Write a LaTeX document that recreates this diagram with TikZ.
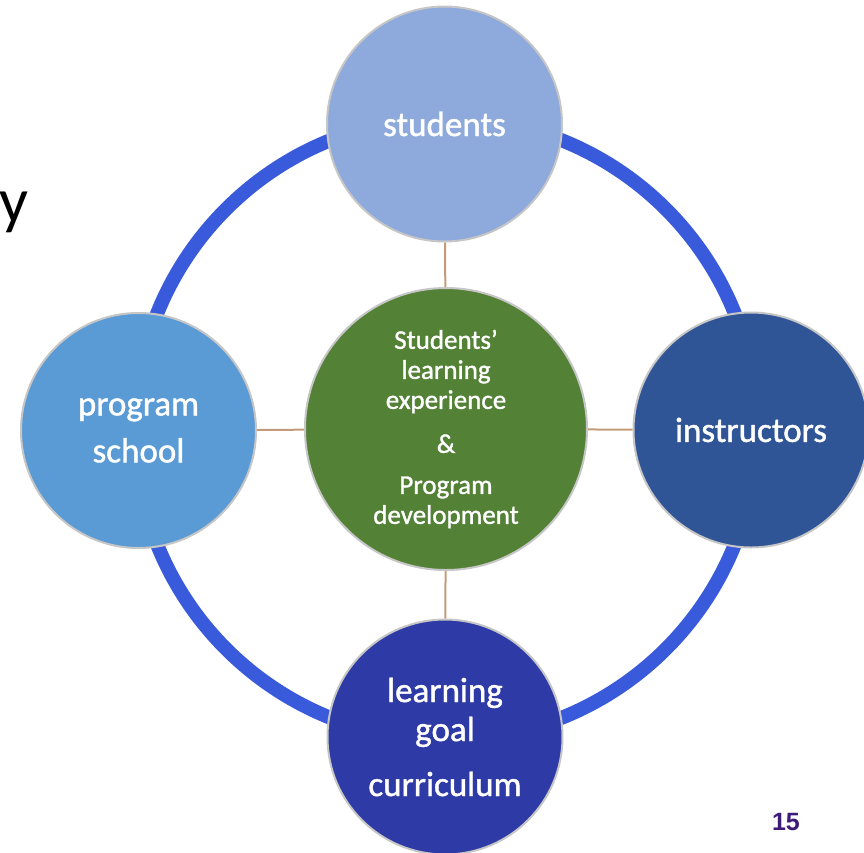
\documentclass[tikz,border=0pt]{standalone}
\usepackage{fontspec}
\setmainfont{Carlito}
\newfontfamily\circtext{Carlito}[FakeBold=1.2]
\newfontfamily\slidenum{Liberation Sans}
\usepackage{xcolor}
\usepackage{tikz}
\usetikzlibrary{backgrounds}

\definecolor{ringblue}{HTML}{3A5ADC}
\definecolor{spoke}{HTML}{C49B78}
\definecolor{rim}{HTML}{C6C6C6}
\definecolor{hubgreen}{HTML}{538135}
\definecolor{stublue}{HTML}{8EAADC}
\definecolor{progblue}{HTML}{5B9BD5}
\definecolor{instblue}{HTML}{2F5597}
\definecolor{currblue}{HTML}{2E3AA6}
\definecolor{numpurple}{HTML}{3D1B78}

\begin{document}
\begin{tikzpicture}[
  x=0.5pt, y=-0.5pt,
  party/.style={circle, draw=rim, line width=1pt, minimum size=117.5pt, inner sep=0pt,
    text=white, align=center, font=\circtext\fontsize{17.5}{23.5}\selectfont},
  hub/.style={circle, draw=rim, line width=1pt, minimum size=141pt, inner sep=0pt,
    fill=hubgreen, text=white, align=center, font=\circtext\fontsize{13.5}{15}\selectfont},
  link/.style={draw=spoke, line width=1pt},
  ring/.style={draw=ringblue, line width=7pt}
]
\useasboundingbox (0,0) rectangle (864,853);

\node[hub] (center) at (446,429) {Students’\\learning\\experience\\[7pt]\&\\[5.5pt]Program\\development};
\node[party, fill=stublue] (students) at (444.5,124) {students};
\node[party, fill=progblue] (school) at (138.5,430.5) {program\\school};
\node[party, fill=instblue] (instructors) at (751,430) {instructors};
\node[party, fill=currblue] (curriculum) at (445,737) {learning\\[-4pt]goal\\[4pt]curriculum};

% ring and spokes go behind the circles
\begin{scope}[on background layer]
\draw[ring] (center.center) circle[radius=311];
\draw[link] (center) -- (students);
\draw[link] (center) -- (school);
\draw[link] (center) -- (instructors);
\draw[link] (center) -- (curriculum);
\end{scope}

\node[anchor=base west, inner sep=0pt, font=\fontsize{32}{32}\selectfont] (cut) at (-1,222) {y};
\node[anchor=base, inner sep=0pt, text=numpurple, font=\slidenum\bfseries\fontsize{12.5}{12.5}\selectfont] (pagenum) at (786,830) {15};
\end{tikzpicture}
\end{document}
